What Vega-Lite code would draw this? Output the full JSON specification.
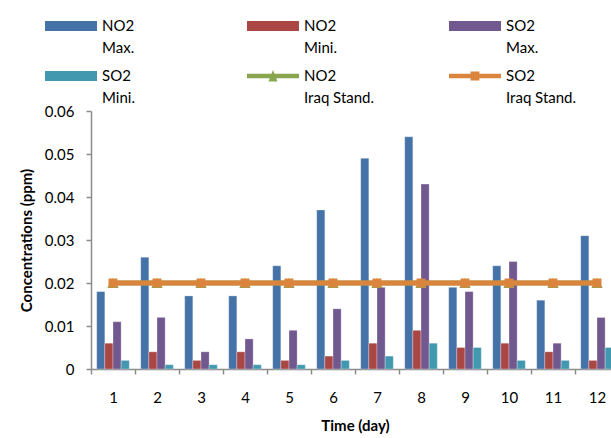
{
  "$schema": "https://vega.github.io/schema/vega-lite/v6.json",
  "width": 528,
  "height": 258,
  "autosize": {"type": "none"},
  "padding": {"left": 91, "top": 111, "right": 0, "bottom": 69},
  "background": "white",
  "config": {
    "font": "Lato",
    "view": {"stroke": null},
    "axis": {"labelFont": "Lato", "titleFont": "Lato", "labelColor": "#000000", "titleColor": "#000000", "domainColor": "#8c8c8c", "tickColor": "#8c8c8c", "domainWidth": 1.5, "tickWidth": 1.5, "grid": false}
  },
  "datasets": {
    "bars": [
      {"day": 1, "series": "NO2 Max.", "value": 0.018}, {"day": 1, "series": "NO2 Mini.", "value": 0.006}, {"day": 1, "series": "SO2 Max.", "value": 0.011}, {"day": 1, "series": "SO2 Mini.", "value": 0.002},
      {"day": 2, "series": "NO2 Max.", "value": 0.026}, {"day": 2, "series": "NO2 Mini.", "value": 0.004}, {"day": 2, "series": "SO2 Max.", "value": 0.012}, {"day": 2, "series": "SO2 Mini.", "value": 0.001},
      {"day": 3, "series": "NO2 Max.", "value": 0.017}, {"day": 3, "series": "NO2 Mini.", "value": 0.002}, {"day": 3, "series": "SO2 Max.", "value": 0.004}, {"day": 3, "series": "SO2 Mini.", "value": 0.001},
      {"day": 4, "series": "NO2 Max.", "value": 0.017}, {"day": 4, "series": "NO2 Mini.", "value": 0.004}, {"day": 4, "series": "SO2 Max.", "value": 0.007}, {"day": 4, "series": "SO2 Mini.", "value": 0.001},
      {"day": 5, "series": "NO2 Max.", "value": 0.024}, {"day": 5, "series": "NO2 Mini.", "value": 0.002}, {"day": 5, "series": "SO2 Max.", "value": 0.009}, {"day": 5, "series": "SO2 Mini.", "value": 0.001},
      {"day": 6, "series": "NO2 Max.", "value": 0.037}, {"day": 6, "series": "NO2 Mini.", "value": 0.003}, {"day": 6, "series": "SO2 Max.", "value": 0.014}, {"day": 6, "series": "SO2 Mini.", "value": 0.002},
      {"day": 7, "series": "NO2 Max.", "value": 0.049}, {"day": 7, "series": "NO2 Mini.", "value": 0.006}, {"day": 7, "series": "SO2 Max.", "value": 0.019}, {"day": 7, "series": "SO2 Mini.", "value": 0.003},
      {"day": 8, "series": "NO2 Max.", "value": 0.054}, {"day": 8, "series": "NO2 Mini.", "value": 0.009}, {"day": 8, "series": "SO2 Max.", "value": 0.043}, {"day": 8, "series": "SO2 Mini.", "value": 0.006},
      {"day": 9, "series": "NO2 Max.", "value": 0.019}, {"day": 9, "series": "NO2 Mini.", "value": 0.005}, {"day": 9, "series": "SO2 Max.", "value": 0.018}, {"day": 9, "series": "SO2 Mini.", "value": 0.005},
      {"day": 10, "series": "NO2 Max.", "value": 0.024}, {"day": 10, "series": "NO2 Mini.", "value": 0.006}, {"day": 10, "series": "SO2 Max.", "value": 0.025}, {"day": 10, "series": "SO2 Mini.", "value": 0.002},
      {"day": 11, "series": "NO2 Max.", "value": 0.016}, {"day": 11, "series": "NO2 Mini.", "value": 0.004}, {"day": 11, "series": "SO2 Max.", "value": 0.006}, {"day": 11, "series": "SO2 Mini.", "value": 0.002},
      {"day": 12, "series": "NO2 Max.", "value": 0.031}, {"day": 12, "series": "NO2 Mini.", "value": 0.002}, {"day": 12, "series": "SO2 Max.", "value": 0.012}, {"day": 12, "series": "SO2 Mini.", "value": 0.005}
    ],
    "no2std": [
      {"day": 1, "series": "NO2 Iraq Stand.", "value": 0.02}, {"day": 2, "series": "NO2 Iraq Stand.", "value": 0.02}, {"day": 3, "series": "NO2 Iraq Stand.", "value": 0.02}, {"day": 4, "series": "NO2 Iraq Stand.", "value": 0.02},
      {"day": 5, "series": "NO2 Iraq Stand.", "value": 0.02}, {"day": 6, "series": "NO2 Iraq Stand.", "value": 0.02}, {"day": 7, "series": "NO2 Iraq Stand.", "value": 0.02}, {"day": 8, "series": "NO2 Iraq Stand.", "value": 0.02},
      {"day": 9, "series": "NO2 Iraq Stand.", "value": 0.02}, {"day": 10, "series": "NO2 Iraq Stand.", "value": 0.02}, {"day": 11, "series": "NO2 Iraq Stand.", "value": 0.02}, {"day": 12, "series": "NO2 Iraq Stand.", "value": 0.02}
    ],
    "so2std": [
      {"day": 1, "series": "SO2 Iraq Stand.", "value": 0.02}, {"day": 2, "series": "SO2 Iraq Stand.", "value": 0.02}, {"day": 3, "series": "SO2 Iraq Stand.", "value": 0.02}, {"day": 4, "series": "SO2 Iraq Stand.", "value": 0.02},
      {"day": 5, "series": "SO2 Iraq Stand.", "value": 0.02}, {"day": 6, "series": "SO2 Iraq Stand.", "value": 0.02}, {"day": 7, "series": "SO2 Iraq Stand.", "value": 0.02}, {"day": 8, "series": "SO2 Iraq Stand.", "value": 0.02},
      {"day": 9, "series": "SO2 Iraq Stand.", "value": 0.02}, {"day": 10, "series": "SO2 Iraq Stand.", "value": 0.02}, {"day": 11, "series": "SO2 Iraq Stand.", "value": 0.02}, {"day": 12, "series": "SO2 Iraq Stand.", "value": 0.02}
    ]
  },
  "encoding": {
    "x": {
      "field": "day", "type": "ordinal",
      "scale": {"paddingInner": 0, "paddingOuter": 0},
      "axis": {"title": "Time (day)", "titleFontSize": 15, "titleFontWeight": "bold", "titlePadding": 13, "labelFontSize": 15, "labelAngle": 0, "labelPadding": 16, "tickBand": "extent", "tickSize": 5}
    },
    "y": {
      "field": "value", "type": "quantitative",
      "scale": {"domain": [0, 0.06], "nice": false, "zero": true},
      "axis": {"title": "Concentrations (ppm)", "titleFontSize": 15, "titleFontWeight": "bold", "titlePadding": 10, "labelFontSize": 15, "labelPadding": 12, "values": [0, 0.01, 0.02, 0.03, 0.04, 0.05, 0.06], "format": ".2~f", "tickSize": 5}
    },
    "color": {
      "field": "series", "type": "nominal",
      "scale": {
        "domain": ["NO2 Max.", "NO2 Mini.", "SO2 Max.", "SO2 Mini.", "NO2 Iraq Stand.", "SO2 Iraq Stand."],
        "range": ["#4572A7", "#AA4643", "#71588F", "#4198AF", "#89A54E", "#DB843D"]
      },
      "legend": {
        "title": null,
        "orient": "none",
        "legendX": -46,
        "legendY": -105,
        "direction": "horizontal",
        "columns": 3,
        "gridAlign": "all",
        "columnPadding": 74,
        "rowPadding": -4,
        "symbolSize": 1600,
        "labelOffset": 17,
        "labelFontSize": 15,
        "labelFont": "Lato",
        "labelColor": "#000000",
        "labelBaseline": "top",
        "labelExpr": "[slice(datum.label, 0, 3), '\u00a0' + slice(datum.label, 4)]",
        "encode": {
          "symbols": {
            "update": {
              "shape": {"signal": "datum.value === 'NO2 Iraq Stand.' ? 'M-1,-0.11H1.6V0.11H-1Z M0.075,0.275L0.3,-0.3L0.525,0.275Z' : datum.value === 'SO2 Iraq Stand.' ? 'M-1,-0.11H1.6V0.11H-1Z M0.08,-0.22H0.52V0.22H0.08Z' : 'M-1,-0.25H1.6V0.25H-1Z'"},
              "fill": {"scale": "color", "field": "value"},
              "fillOpacity": {"value": 1},
              "opacity": {"value": 1},
              "strokeWidth": {"value": 0}
            }
          },
          "labels": {
            "update": {
              "lineHeight": {"value": 22},
              "dy": {"value": -7}
            }
          }
        }
      }
    }
  },
  "layer": [
    {
      "data": {"name": "bars"},
      "mark": {"type": "bar", "stroke": "#ffffff", "strokeWidth": 0.6, "strokeOpacity": 0.5},
      "encoding": {
        "xOffset": {"field": "series", "type": "nominal", "scale": {"domain": ["NO2 Max.", "NO2 Mini.", "SO2 Max.", "SO2 Mini."], "paddingInner": 0, "paddingOuter": 0.7}}
      }
    },
    {
      "data": {"name": "no2std"},
      "mark": {"type": "line", "strokeWidth": 5},
      "encoding": {}
    },
    {
      "data": {"name": "no2std"},
      "mark": {"type": "point", "shape": "triangle-up", "filled": true, "size": 130, "opacity": 1},
      "encoding": {}
    },
    {
      "data": {"name": "so2std"},
      "mark": {"type": "line", "strokeWidth": 5},
      "encoding": {}
    },
    {
      "data": {"name": "so2std"},
      "mark": {"type": "point", "shape": "square", "filled": true, "size": 81, "opacity": 1},
      "encoding": {}
    }
  ]
}
